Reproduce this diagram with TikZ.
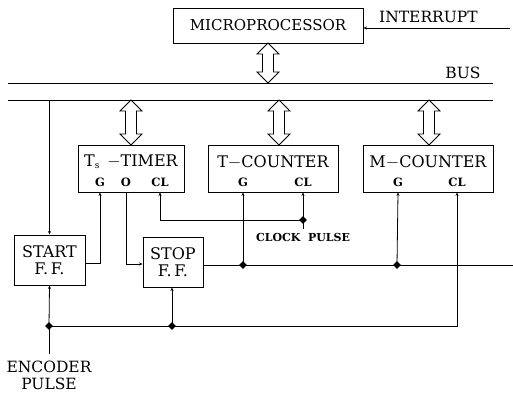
\documentclass[tikz,border=0pt]{standalone}
\usepackage{fontspec}
\setmainfont{DejaVu Serif}
\usetikzlibrary{arrows.meta,shapes.geometric}
\tikzset{
  blk/.style={draw,line width=0.9pt,inner sep=0pt,align=center,font=\fontsize{16}{17}\selectfont},
  pin/.style={inner sep=0pt,font=\bfseries\fontsize{11.5}{12}\selectfont},
  lbl/.style={inner sep=0pt,font=\fontsize{15.5}{17}\selectfont,align=center},
  wire/.style={line width=0.8pt},
  arr/.style={wire,-{Stealth[length=3.5pt,width=3pt]}},
  dot/.style={diamond,fill,inner sep=0pt,minimum size=8pt},
  hollow/.style={line width=0.8pt,fill=white},
  dblarr/.pic={\draw[hollow] (0,0) -- (11,11) -- (5.5,11) -- (5.5,#1-11) -- (11,#1-11) -- (0,#1) -- (-11,#1-11) -- (-5.5,#1-11) -- (-5.5,11) -- (-11,11) -- cycle;},
}
\begin{document}
\begin{tikzpicture}[x=1pt,y=-1pt]
\useasboundingbox (0,0) rectangle (513,397);
% bus
\coordinate (b1L) at (8,83); \coordinate (b1R) at (493,83);
\coordinate (b2L) at (8,100); \coordinate (b2R) at (493,100);
\draw[wire] (b1L) -- (b1R);
\draw[wire] (b2L) -- (b2R);
\node[lbl,anchor=south] (bus) at (463,79) {BUS};
% blocks
\node[blk,minimum width=190,minimum height=35,font=\fontsize{15}{16}\selectfont] (mp) at (268,25.5) {MICROPROCESSOR};
\node[blk,minimum width=106,minimum height=47] (tm) at (131,168.5) {};
\node[blk,minimum width=130,minimum height=47] (tc) at (273,168.5) {};
\node[blk,minimum width=130,minimum height=47] (mc) at (428,168.5) {};
\node[blk,minimum width=71,minimum height=50] (st) at (49.5,260) {START\\F.\,F.};
\node[blk,minimum width=60,minimum height=50] (sp) at (173,262) {STOP\\F.\,F.};
\node[blk,draw=none,anchor=center] (tmt) at (131,162) {T\raisebox{-2pt}{\fontsize{9}{9}\selectfont s}\ \,$-$TIMER};
\node[blk,draw=none,anchor=center] (tct) at (273,162) {T$-$COUNTER};
\node[blk,draw=none,anchor=center] (mct) at (428,162) {M$-$COUNTER};
% pins
\node[pin] (tmG) at (100,182) {G};
\node[pin] (tmO) at (126,182) {O};
\node[pin] (tmC) at (160,182) {CL};
\node[pin] (tcG) at (243,182) {G};
\node[pin] (tcC) at (303,182) {CL};
\node[pin] (mcG) at (398,182) {G};
\node[pin] (mcC) at (457,182) {CL};
% hollow arrows
\pic at (268,43) {dblarr=40};
\pic at (131,100) {dblarr=45};
\pic at (279,100) {dblarr=45};
\pic at (429,100) {dblarr=45};
% interrupt
\coordinate (intR) at (510,28);
\draw[arr] (intR) -- (mp.east |- intR);
\node[lbl,anchor=south west] (intl) at (379,23) {INTERRUPT};
% start from bus
\draw[arr] (st.north |- b2L) -- (st.north);
% start -> timer G
\draw[arr] (st.east |- 0,263) -| (tmG.center |- tm.south);
% timer O -> stop
\draw[arr] (tmO.center |- tm.south) |- (sp.west |- 0,264);
% clock pulse
\coordinate (cpj) at (303,220);
\coordinate (cpin) at (303,229);
\draw[wire] (cpin) -- (cpj);
\draw[arr] (cpj) -- (tcC.center |- tc.south);
\draw[arr] (cpj) -| (tmC.center |- tm.south);
\node[dot] (cpd) at (cpj) {};
\node[inner sep=0pt,font=\bfseries\fontsize{11}{12}\selectfont] (cpl) at (303,237) {CLOCK\ \ PULSE};
% stop output
\coordinate (j1) at (243,265);
\coordinate (j2) at (397,265);
\coordinate (outR) at (513,265);
\draw[wire] (sp.east |- j1) -- (outR);
\draw[arr] (j1) -- (tcG.center |- tc.south);
\draw[arr] (j2) -- (mcG.center |- mc.south);
\node[dot] (d1) at (j1) {};
\node[dot] (d2) at (j2) {};
% encoder
\coordinate (e1) at (49,326);
\coordinate (e2) at (172,326);
\coordinate (e3) at (457,326);
\coordinate (ein) at (49,354);
\draw[wire] (ein) -- (e1);
\draw[arr] (e1) -- (st.south);
\draw[arr] (e2) -- (e2 |- sp.south);
\draw[arr] (e1) -- (e3) -- (mcC.center |- mc.south);
\node[dot] (d3) at (e1) {};
\node[dot] (d4) at (e2) {};
\node[lbl,anchor=north] (enc) at (49,361) {ENCODER\\PULSE};
\end{tikzpicture}
\end{document}
